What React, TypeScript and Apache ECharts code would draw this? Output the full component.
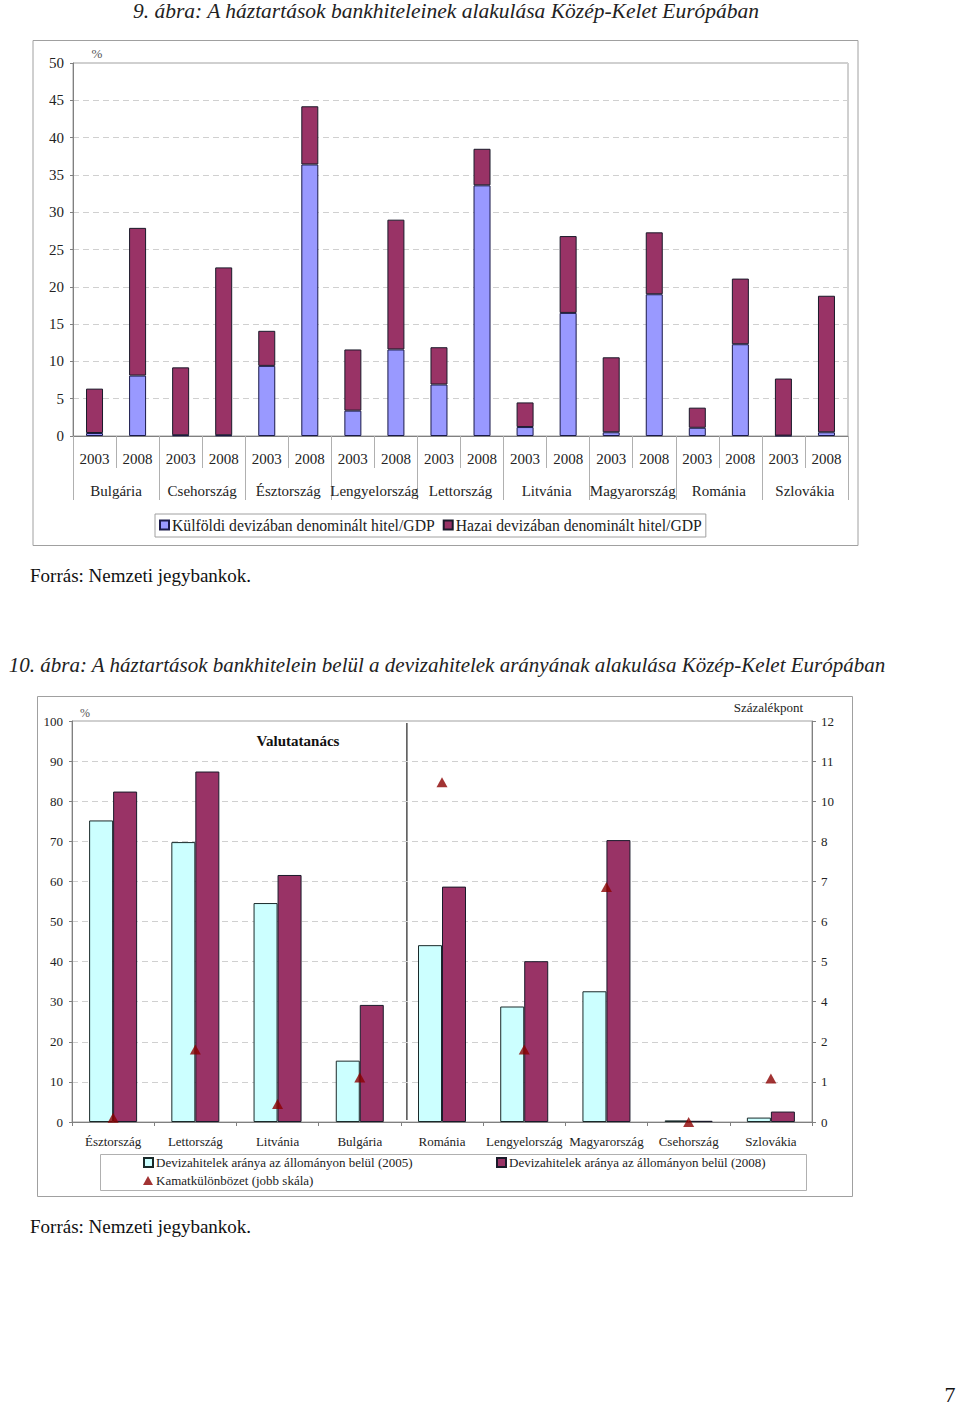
import React, { useEffect, useRef } from "react";
import * as echarts from "echarts";

// ---------- Chart 1 data ----------
const countries1 = ["Bulgária", "Csehország", "Észtország", "Lengyelország", "Lettország", "Litvánia", "Magyarország", "Románia", "Szlovákia"];
const years1 = ["2003", "2008"];
const foreignGDP = [0.4, 8.1, 0.1, 0.1, 9.4, 36.4, 3.4, 11.6, 6.9, 33.6, 1.2, 16.5, 0.5, 19.0, 1.1, 12.3, 0.05, 0.5];
const domesticGDP = [5.95, 19.8, 9.1, 22.5, 4.7, 7.8, 8.2, 17.4, 5.0, 4.9, 3.3, 10.3, 10.05, 8.3, 2.7, 8.8, 7.65, 18.3];
const yTicks1 = { min: 0, max: 50, interval: 5 };

// ---------- Chart 2 data ----------
const countries2 = ["Észtország", "Lettország", "Litvánia", "Bulgária", "Románia", "Lengyelország", "Magyarország", "Csehország", "Szlovákia"];
const share2005 = [75.2, 69.8, 54.6, 15.3, 44.1, 28.8, 32.6, 0.4, 1.1];
const share2008 = [82.4, 87.4, 61.6, 29.2, 58.7, 40.1, 70.3, 0.3, 2.6];
const rateSpread = [0.13, 2.17, 0.54, 1.33, 10.17, 2.17, 7.03, 0, 1.3];
const yTicksLeft2 = { min: 0, max: 100, interval: 10 };
const yTicksRight2 = { min: 0, max: 12, interval: 1.2 };

const FONT = "Liberation Serif";
const S1 = "Külföldi devizában denominált hitel/GDP";
const S2 = "Hazai devizában denominált hitel/GDP";
const B1 = "Devizahitelek aránya az állományon belül (2005)";
const B2 = "Devizahitelek aránya az állományon belül (2008)";
const B3 = "Kamatkülönbözet (jobb skála)";

function txt(x: number, y: number, text: string, size: number, opts: any = {}) {
  return {
    type: "text", x, y, silent: true,
    style: {
      text, fontFamily: FONT, fontSize: size, fontStyle: opts.italic ? "italic" : "normal",
      fontWeight: opts.bold ? "bold" : "normal", fill: opts.fill || "#1a1a1a",
      textAlign: opts.align || "left", textVerticalAlign: "middle",
    },
  };
}

export default function App() {
  const ref = useRef<HTMLDivElement>(null);
  useEffect(() => {
    if (!ref.current) return;
    const chart = echarts.init(ref.current, null, { renderer: "svg" });
    const cats1: string[] = [];
    countries1.forEach((c) => years1.forEach((y) => cats1.push(y + "|" + c)));

    const g1 = { left: 73, top: 63, width: 775, height: 373 };
    const g2 = { left: 72, top: 721, width: 740, height: 401 };
    const catW2 = g2.width / countries2.length;
    const sepX = g2.left + catW2 * 4 + 6;

    const grayLine = { color: "#808080", width: 1 };
    const dashed = { show: true, lineStyle: { color: "#d0d0d0", type: [6, 4] as any, width: 1 } };

    const option: any = {
      animation: false,
      backgroundColor: "#ffffff",
      textStyle: { fontFamily: FONT },
      grid: [
        { ...g1, show: true, borderColor: "#a0a0a0", borderWidth: 1, backgroundColor: "transparent" },
        { ...g2, show: true, borderColor: "#a0a0a0", borderWidth: 1, backgroundColor: "transparent" },
      ],
      xAxis: [
        {
          type: "category", gridIndex: 0, position: "bottom", data: cats1,
          axisLine: { show: true, lineStyle: grayLine },
          axisTick: { show: true, length: 32, interval: 0, lineStyle: { color: "#b0b0b0" } },
          axisLabel: { interval: 0, margin: 15, fontSize: 15, color: "#222", fontFamily: FONT, formatter: (v: string) => v.split("|")[0] },
          splitLine: { show: false },
        },
        {
          type: "category", gridIndex: 0, position: "bottom", data: countries1,
          axisLine: { show: false },
          axisTick: { show: true, length: 64, interval: 0, lineStyle: { color: "#b0b0b0" } },
          axisLabel: { interval: 0, margin: 47, fontSize: 15, color: "#222", fontFamily: FONT },
          splitLine: { show: false },
        },
        {
          type: "category", gridIndex: 1, position: "bottom", data: countries2,
          axisLine: { show: true, lineStyle: grayLine },
          axisTick: { show: true, length: 4, interval: 0, lineStyle: grayLine },
          axisLabel: { interval: 0, margin: 13, fontSize: 13, color: "#222", fontFamily: FONT },
          splitLine: { show: false },
        },
      ],
      yAxis: [
        {
          type: "value", gridIndex: 0, ...yTicks1,
          axisLine: { show: true, lineStyle: grayLine },
          axisTick: { show: true, length: 3, lineStyle: grayLine },
          axisLabel: { margin: 9, fontSize: 15, color: "#222", fontFamily: FONT },
          splitLine: dashed,
        },
        {
          type: "value", gridIndex: 1, position: "left", ...yTicksLeft2,
          axisLine: { show: true, lineStyle: grayLine },
          axisTick: { show: true, length: 3, lineStyle: grayLine },
          axisLabel: { margin: 9, fontSize: 13, color: "#222", fontFamily: FONT },
          splitLine: dashed,
        },
        {
          type: "value", gridIndex: 1, position: "right", ...yTicksRight2,
          axisLine: { show: true, lineStyle: grayLine },
          axisTick: { show: true, length: 4, lineStyle: grayLine },
          axisLabel: { margin: 9, fontSize: 13, color: "#222", fontFamily: FONT, formatter: (v: number) => String(Math.round(v)) },
          splitLine: { show: false },
        },
      ],
      legend: [
        {
          data: [S1, S2], left: 155, top: 514, orient: "horizontal",
          itemWidth: 9, itemHeight: 9, itemGap: 8, icon: "rect",
          padding: [3, 4, 4, 4], borderColor: "#a0a0a0", borderWidth: 1,
          textStyle: { fontSize: 15.7, color: "#222", fontFamily: FONT, padding: [0, 0, 0, -2] },
        },
        {
          data: [B1], left: 143, top: 1156, itemWidth: 9, itemHeight: 9, icon: "rect", padding: 0,
          textStyle: { fontSize: 13, color: "#222", fontFamily: FONT, padding: [0, 0, 0, -2] },
        },
        {
          data: [B2], left: 496, top: 1156, itemWidth: 9, itemHeight: 9, icon: "rect", padding: 0,
          textStyle: { fontSize: 13, color: "#222", fontFamily: FONT, padding: [0, 0, 0, -2] },
        },
        {
          data: [B3], left: 143, top: 1174, itemWidth: 10, itemHeight: 9, icon: "triangle", padding: 0,
          textStyle: { fontSize: 13, color: "#222", fontFamily: FONT, padding: [0, 0, 0, -2] },
        },
      ],
      series: [
        {
          name: S1, type: "bar", stack: "t1", xAxisIndex: 0, yAxisIndex: 0, barWidth: 17,
          data: foreignGDP, itemStyle: { color: "#9999FF", borderColor: "#1a1a4a", borderWidth: 1 },
        },
        {
          name: S2, type: "bar", stack: "t1", xAxisIndex: 0, yAxisIndex: 0, barWidth: 17,
          data: domesticGDP, itemStyle: { color: "#993366", borderColor: "#1a1a2a", borderWidth: 1 },
        },
        {
          name: B1, type: "bar", xAxisIndex: 2, yAxisIndex: 1, barWidth: 24, barGap: "0%",
          data: share2005, itemStyle: { color: "#CCFFFF", borderColor: "#1a2a2a", borderWidth: 1 },
        },
        {
          name: B2, type: "bar", xAxisIndex: 2, yAxisIndex: 1, barWidth: 24, barGap: "0%",
          data: share2008, itemStyle: { color: "#993366", borderColor: "#1a1a2a", borderWidth: 1 },
        },
        {
          name: B3, type: "scatter", xAxisIndex: 2, yAxisIndex: 2, symbol: "triangle", symbolSize: [11, 10],
          clip: false, data: rateSpread, itemStyle: { color: "#8B0000" }, z: 5,
        },
      ],
      graphic: [
        { type: "rect", shape: { x: 33, y: 40.5, width: 825, height: 505 }, style: { fill: "none", stroke: "#a0a0a0", lineWidth: 1 }, silent: true },
        { type: "rect", shape: { x: 37.5, y: 696.5, width: 815, height: 500 }, style: { fill: "none", stroke: "#a0a0a0", lineWidth: 1 }, silent: true },
        { type: "rect", shape: { x: 100.5, y: 1154.5, width: 706, height: 36 }, style: { fill: "none", stroke: "#b0b0b0", lineWidth: 1 }, silent: true },
        txt(446, 11, "9. ábra: A háztartások bankhiteleinek alakulása Közép-Kelet Európában", 21.5, { italic: true, align: "center", fill: "#222" }),
        txt(447, 665, "10. ábra: A háztartások bankhitelein belül a devizahitelek arányának alakulása Közép-Kelet Európában", 21, { italic: true, align: "center", fill: "#222" }),
        txt(30, 575, "Forrás: Nemzeti jegybankok.", 19, { fill: "#111" }),
        txt(30, 1226, "Forrás: Nemzeti jegybankok.", 19, { fill: "#111" }),
        txt(950, 1394, "7", 22, { align: "center", fill: "#111" }),
        txt(97, 53, "%", 13, { align: "center", fill: "#555" }),
        txt(85, 713, "%", 12, { align: "center", fill: "#555" }),
        txt(803, 707, "Százalékpont", 13, { align: "right", fill: "#222" }),
        { type: "line", shape: { x1: sepX, y1: g2.top + 2, x2: sepX, y2: g2.top + g2.height - 2 }, style: { stroke: "#333", lineWidth: 1.3 }, silent: true },
        txt(298, 741, "Valutatanács", 15, { bold: true, align: "center", fill: "#111" }),
      ],
    };
    chart.setOption(option);
    return () => chart.dispose();
  }, []);
  return <div ref={ref} style={{ position: "absolute", left: 0, top: 0, width: 960, height: 1408 }} />;
}
